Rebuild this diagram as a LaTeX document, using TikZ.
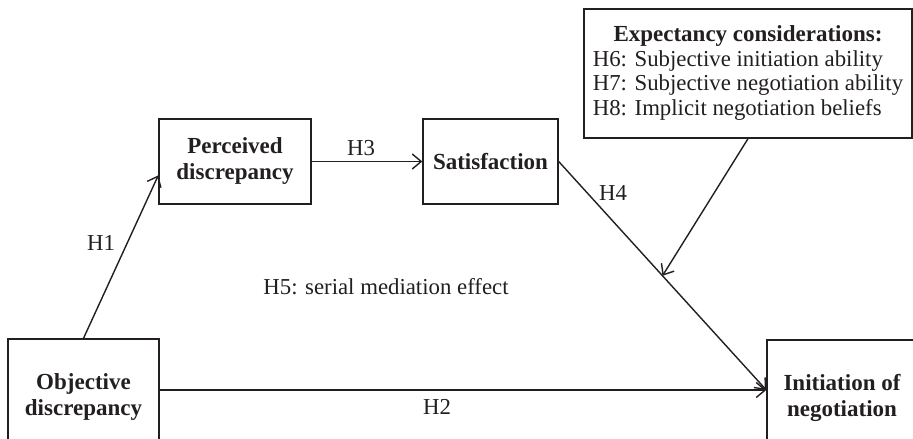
\documentclass[tikz,border=0pt]{standalone}
\usepackage{fontspec}
\setmainfont{Liberation Serif}
\usetikzlibrary{arrows.meta,calc}
\definecolor{ink}{RGB}{35,31,32}
\begin{document}
\begin{tikzpicture}[x=1pt,y=-1pt,
  every node/.style={text=ink,font=\fontsize{22.8}{24.5}\selectfont},
  box/.style={draw=ink,line width=1.4pt,inner sep=0pt,align=center,font=\fontsize{23}{26}\selectfont\bfseries},
  conn/.style={draw=ink,line width=1.4pt,-{Straight Barb[length=9pt,width=15pt,line width=1.4pt]}},
  lab/.style={inner sep=0pt}]
\clip (0,0) rectangle (913,439);
\fill[white] (0,0) rectangle (913,439);
\node[box,minimum width=151pt,minimum height=116pt] (obj) at (83.5,397) {Objective\\discrepancy};
\node[box,minimum width=152pt,minimum height=85pt] (perc) at (235,161.5) {Perceived\\discrepancy};
\node[box,minimum width=135pt,minimum height=85pt] (sat) at (490.5,161.5) {Satisfaction};
\node[box,minimum width=150pt,minimum height=116pt] (init) at (842,398) {Initiation of\\negotiation};
\node[draw=ink,line width=1.4pt,inner sep=0pt,minimum width=328pt,minimum height=129pt] (exp) at (748,73.5)
  {\begin{tabular}{@{}l@{}}\multicolumn{1}{@{}c@{}}{\fontsize{23}{24.5}\selectfont\bfseries Expectancy considerations:}\\
   H6: Subjective initiation ability\\
   H7: Subjective negotiation ability\\
   H8: Implicit negotiation beliefs\end{tabular}};
\coordinate (tgt) at ($(init.west)+(0,-8)$);
\coordinate (h1end) at ($(perc.north west)!0.66!(perc.south west)$);
\coordinate (mod) at ($(sat.east)!0.5!(tgt)$);
\draw[conn] (obj.north) -- (h1end);
\draw[conn] (perc.east) -- (sat.west);
\draw[conn] (sat.east) -- (tgt);
\draw[conn] (obj.east |- tgt) -- (tgt);
\draw[conn] (exp.south) -- (mod);
\node[lab] (l1) at (101,243) {H1};
\node[lab] (l2) at (437,407) {H2};
\node[lab] (l3) at (361,148) {H3};
\node[lab] (l4) at (613,193) {H4};
\node[lab] (l5) at (386,287) {H5: serial mediation effect};
\end{tikzpicture}
\end{document}
